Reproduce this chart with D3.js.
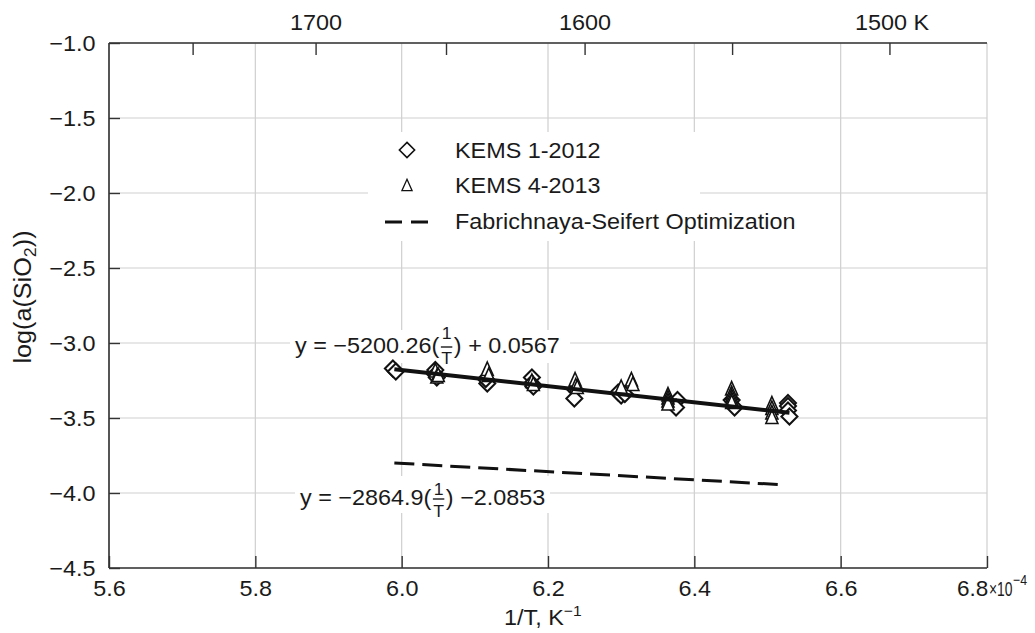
<!DOCTYPE html>
<html><head><meta charset="utf-8">
<script src="https://cdn.jsdelivr.net/npm/d3@7"></script>
<style>
body{margin:0;background:#fff}
text{font-family:"Liberation Sans",Arial,Helvetica,sans-serif;fill:#1a1a1a}
</style>
</head><body>
<svg id="c" width="1035" height="633"></svg>
<script>
// ---------- data ----------
const xTicks = [5.6, 5.8, 6.0, 6.2, 6.4, 6.6, 6.8];
const yTicks = [-4.5, -4.0, -3.5, -3.0, -2.5, -2.0, -1.5, -1.0];
const topTicksK = [1750, 1700, 1650, 1600, 1550, 1500];
const topLabelsK = [1700, 1600, 1500];

// KEMS 1-2012 (diamonds)
const kems1X = [5.988, 5.992, 6.046, 6.046, 6.048, 6.117, 6.115, 6.178, 6.178, 6.180, 6.237, 6.236,
                6.296, 6.300, 6.305, 6.377, 6.375, 6.451, 6.455, 6.528, 6.528, 6.528, 6.530];
const kems1Y = [-3.17, -3.19, -3.18, -3.21, -3.23, -3.27, -3.24, -3.23, -3.27, -3.29, -3.31, -3.37,
                -3.33, -3.35, -3.34, -3.38, -3.43, -3.38, -3.43, -3.40, -3.42, -3.45, -3.49];
// KEMS 4-2013 (triangles)
const kems4X = [6.046, 6.048, 6.050, 6.117, 6.119, 6.178, 6.180, 6.237, 6.238, 6.240,
                6.314, 6.316, 6.300, 6.364, 6.364, 6.364, 6.364, 6.451, 6.451, 6.451, 6.451, 6.451,
                6.506, 6.506, 6.506, 6.506];
const kems4Y = [-3.19, -3.23, -3.22, -3.18, -3.22, -3.26, -3.28, -3.25, -3.29, -3.30,
                -3.25, -3.28, -3.30, -3.35, -3.37, -3.39, -3.41, -3.31, -3.34, -3.36, -3.38, -3.40,
                -3.41, -3.44, -3.47, -3.50];
// fitted line (KEMS) and Fabrichnaya-Seifert optimization
const fitX = [5.99, 6.53];
const fitY = [-3.175, -3.465];
const optX = [5.99, 6.52];
const optY = [-3.80, -3.945];

const legendLabels = ["KEMS 1-2012", "KEMS 4-2013", "Fabrichnaya-Seifert Optimization"];

// ---------- setup ----------
const SX = 1.04;
const FS = 22.5;
const svg = d3.select("#c");
const L = 109, R = 987, T = 43, B = 568;
const x = d3.scaleLinear().domain([5.6, 6.8]).range([L, R]);
const y = d3.scaleLinear().domain([-4.5, -1.0]).range([B, T]);

function txt(parent, px, py, str, size, anchor, sx) {
  return parent.append("text")
    .attr("transform", `translate(${px},${py}) scale(${sx || SX},1)`)
    .attr("font-size", size || FS)
    .attr("text-anchor", anchor || "start")
    .text(str);
}

// gridlines
const grid = svg.append("g").attr("stroke", "#cfcfcf").attr("stroke-width", 1.2);
grid.selectAll("line.v").data(xTicks).join("line")
  .attr("x1", d => x(d)).attr("x2", d => x(d)).attr("y1", T).attr("y2", B);
grid.selectAll("line.h").data(yTicks).join("line")
  .attr("y1", d => y(d)).attr("y2", d => y(d)).attr("x1", L).attr("x2", R);

// white boxes (legend + equations)
const boxes = svg.append("g").attr("fill", "#fff");
boxes.append("rect").attr("x", 368).attr("y", 132).attr("width", 332).attr("height", 74);
boxes.append("rect").attr("x", 368).attr("y", 205).attr("width", 440).attr("height", 36);
boxes.append("rect").attr("x", 290).attr("y", 330).attr("width", 280).attr("height", 33);
boxes.append("rect").attr("x", 295).attr("y", 476).attr("width", 255).attr("height", 37);

// axes
const axCol = "#333";
const gBottom = svg.append("g").attr("transform", `translate(0,${B})`)
  .call(d3.axisBottom(x).tickValues(xTicks).tickSizeInner(-12).tickSizeOuter(0).tickPadding(12)
        .tickFormat(d => d === 6.8 ? "" : d3.format(".1f")(d)));
const gLeft = svg.append("g").attr("transform", `translate(${L},0)`)
  .call(d3.axisLeft(y).tickValues(yTicks).tickSizeInner(-11).tickSizeOuter(0).tickPadding(12)
        .tickFormat(d => d3.format(".1f")(d).replace("-", "\u2212")));
const gTop = svg.append("g").attr("transform", `translate(0,${T})`)
  .call(d3.axisTop(x).tickValues(topTicksK.map(k => 1e4 / k)).tickSizeInner(-12).tickSizeOuter(0).tickPadding(13)
        .tickFormat((d, i) => topLabelsK.includes(topTicksK[i]) ? (topTicksK[i] === 1500 ? "" : String(topTicksK[i])) : ""));
[gBottom, gLeft, gTop].forEach(g => {
  g.select(".domain").attr("stroke", axCol).attr("stroke-width", 1.6);
  g.selectAll(".tick line").attr("stroke", axCol).attr("stroke-width", 1.4);
  g.selectAll(".tick text").attr("font-size", FS).attr("fill", "#1a1a1a")
    .attr("font-family", '"Liberation Sans",Arial,sans-serif')
    .attr("transform", `scale(${SX},1)`);
});
gLeft.selectAll(".tick text").attr("x", -13.5 / SX);
gTop.select(".domain").attr("d", `M${L},0H${R}`);
gBottom.select(".domain").attr("d", `M${L},0H${R}`);
gLeft.select(".domain").attr("d", `M0,${T}V${B}`);

// special labels
txt(svg, 855, 30, "1500 K", FS, "start");
txt(svg, 957, 596, "6.8", FS, "start", 1);
txt(svg, 989, 596, "×10", 21, "start", 0.66);
txt(svg, 1013, 585, "\u22124", 15, "start", 0.82);
const xl = txt(svg, 504, 625, "1/T, K", FS, "start");
xl.append("tspan").attr("dy", -9).attr("font-size", 15).text("\u22121");
const yl = svg.append("text").attr("transform", `translate(31,297) rotate(-90) scale(1.12,1.04)`)
  .attr("font-size", FS).attr("text-anchor", "middle");
yl.append("tspan").text("log(a(SiO");
yl.append("tspan").attr("dy", 5).attr("font-size", 16).text("2");
yl.append("tspan").attr("dy", -5).text("))");

// markers
const diamond = "M0,-8L8,0L0,8L-8,0Z";
const tri = "M0,-8L6,5.5L-6,5.5Z";
const pts = svg.append("g").attr("fill", "#fff").attr("stroke", "#111").attr("stroke-width", 2);
pts.selectAll("path.d").data(kems1X).join("path").attr("class", "d")
  .attr("d", diamond).attr("transform", (d, i) => `translate(${x(d)},${y(kems1Y[i])})`);
pts.selectAll("path.t").data(kems4X).join("path").attr("class", "t")
  .attr("stroke-width", 1.6)
  .attr("d", tri).attr("transform", (d, i) => `translate(${x(d)},${y(kems4Y[i])})`);

// lines
const line = d3.line().x(d => x(d[0])).y(d => y(d[1]));
svg.append("path").attr("d", line(fitX.map((v, i) => [v, fitY[i]])))
  .attr("stroke", "#111").attr("stroke-width", 4).attr("fill", "none");
svg.append("path").attr("d", line(optX.map((v, i) => [v, optY[i]])))
  .attr("stroke", "#111").attr("stroke-width", 3).attr("stroke-dasharray", "20,8").attr("fill", "none");

// legend
const lg = svg.append("g");
lg.append("path").attr("d", diamond).attr("transform", "translate(407,150) scale(0.95)")
  .attr("fill", "#fff").attr("stroke", "#111").attr("stroke-width", 1.7);
lg.append("path").attr("d", tri).attr("transform", "translate(407,186) scale(0.85)")
  .attr("fill", "#fff").attr("stroke", "#111").attr("stroke-width", 1.5);
lg.append("line").attr("x1", 385).attr("x2", 429).attr("y1", 222).attr("y2", 222)
  .attr("stroke", "#111").attr("stroke-width", 3).attr("stroke-dasharray", "17,9");
legendLabels.forEach((s, i) => txt(lg, 455, [158, 193, 229][i], s, FS, "start"));

// equations
function equation(px, base, pre, post, numBase, denBase, barY) {
  const g = svg.append("g").attr("transform", `translate(${px},0) scale(${SX},1)`);
  let cx = 0;
  const a = g.append("text").attr("x", cx).attr("y", base).attr("font-size", FS).text(pre);
  cx += a.node().getComputedTextLength() + 1;
  g.append("text").attr("x", cx + 6).attr("y", numBase).attr("font-size", 17).attr("text-anchor", "middle").text("1");
  g.append("text").attr("x", cx + 6).attr("y", denBase).attr("font-size", 17).attr("text-anchor", "middle").text("T");
  g.append("line").attr("x1", cx + 0.5).attr("x2", cx + 11.5).attr("y1", barY).attr("y2", barY)
    .attr("stroke", "#1a1a1a").attr("stroke-width", 1.4);
  cx += 13;
  g.append("text").attr("x", cx).attr("y", base).attr("font-size", FS).text(post);
}
equation(295, 353, "y = \u22125200.26(", ") + 0.0567", 339, 364, 347);
equation(300, 505, "y = \u22122864.9(", ") \u22122.0853", 495, 517, 499);
</script>
</body></html>
